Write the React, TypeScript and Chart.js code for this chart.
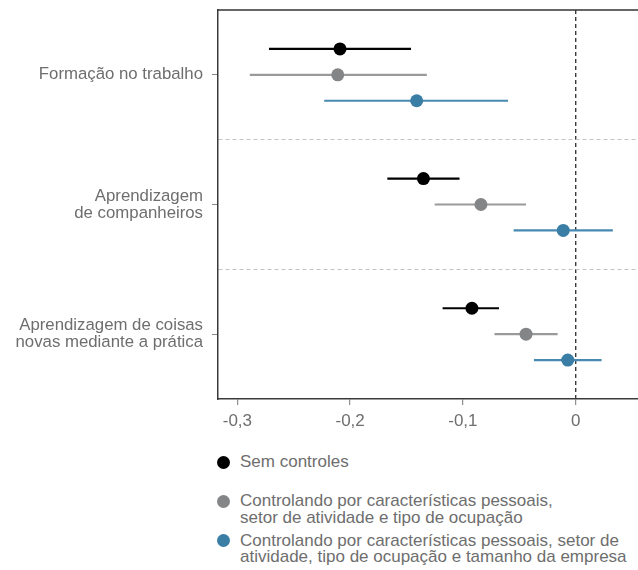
import React, { useEffect, useRef } from "react";
import { Chart, registerables } from "chart.js";

Chart.register(...registerables);

const CATEGORIES: string[][] = [
  ["Formação no trabalho"],
  ["Aprendizagem", "de companheiros"],
  ["Aprendizagem de coisas", "novas mediante a prática"],
];

const SERIES_NAMES: string[][] = [
  ["Sem controles"],
  ["Controlando por características pessoais,", "setor de atividade e tipo de ocupação"],
  ["Controlando por características pessoais, setor de", "atividade, tipo de ocupação e tamanho da empresa"],
];

const EST_SEM = [-0.209, -0.135, -0.092];
const LO_SEM = [-0.272, -0.167, -0.118];
const HI_SEM = [-0.146, -0.103, -0.068];

const EST_PESS = [-0.211, -0.084, -0.044];
const LO_PESS = [-0.289, -0.125, -0.072];
const HI_PESS = [-0.132, -0.044, -0.016];

const EST_EMP = [-0.141, -0.011, -0.007];
const LO_EMP = [-0.223, -0.055, -0.037];
const HI_EMP = [-0.06, 0.033, 0.023];

const X_TICKS = [-0.3, -0.2, -0.1, 0];

const POINT_COLORS = ["#000000", "#848587", "#3a7ea6"];
const LINE_COLORS = ["#000000", "#9a9a9a", "#4789b1"];
const DODGE = [-0.2, 0, 0.2];
const TEXT = "#6e6e6e";
const FONT = "'Liberation Sans', Arial, Helvetica, sans-serif";

const SERIES = [
  { est: EST_SEM, lo: LO_SEM, hi: HI_SEM },
  { est: EST_PESS, lo: LO_PESS, hi: HI_PESS },
  { est: EST_EMP, lo: LO_EMP, hi: HI_EMP },
];

const topBorder = {
  id: "topBorder",
  afterDraw(chart: any) {
    const { ctx, chartArea } = chart;
    ctx.save();
    ctx.strokeStyle = "#333";
    ctx.lineWidth = 1.5;
    ctx.beginPath();
    ctx.moveTo(chartArea.left - 0.75, chartArea.top);
    ctx.lineTo(chartArea.right, chartArea.top);
    ctx.stroke();
    ctx.restore();
  },
};

export default function App() {
  const ref = useRef<HTMLCanvasElement | null>(null);

  useEffect(() => {
    if (!ref.current) return;
    const datasets: any[] = [];
    SERIES.forEach((s, si) => {
      datasets.push({
        label: SERIES_NAMES[si].join(" "),
        data: s.est.map((v, ci) => ({ x: v, y: ci + DODGE[si] })),
        backgroundColor: POINT_COLORS[si],
        borderWidth: 0,
        pointRadius: 6.5,
        pointHoverRadius: 6.5,
        showLine: false,
        order: 0,
      });
    });
    SERIES.forEach((s, si) => {
      s.est.forEach((_, ci) => {
        datasets.push({
          label: "ci",
          data: [
            { x: s.lo[ci], y: ci + DODGE[si] },
            { x: s.hi[ci], y: ci + DODGE[si] },
          ],
          borderColor: LINE_COLORS[si],
          borderWidth: 2.2,
          pointRadius: 0,
          showLine: true,
          order: 1,
        });
      });
    });

    const chart = new Chart(ref.current, {
      type: "scatter",
      data: { datasets },
      plugins: [topBorder],
      options: {
        animation: false,
        responsive: true,
        maintainAspectRatio: false,
        layout: { autoPadding: false, padding: { top: 10, right: 0, left: 0, bottom: 0 } },
        plugins: { legend: { display: false }, tooltip: { enabled: false } },
        scales: {
          x: {
            type: "linear",
            min: -0.3172,
            max: 0.0553,
            afterBuildTicks: (scale: any) => {
              scale.ticks = X_TICKS.map((v) => ({ value: v }));
            },
            afterFit: (scale: any) => {
              scale.height = 41;
              scale.paddingLeft = 0;
              scale.paddingRight = 0;
            },
            ticks: {
              color: TEXT,
              font: { family: FONT, size: 17 },
              padding: 6,
              maxRotation: 0,
              callback: (v: any) =>
                v === 0 ? "0" : Number(v).toFixed(1).replace(".", ","),
            },
            grid: {
              drawOnChartArea: true,
              drawTicks: true,
              tickLength: 6,
              color: (ctx: any) =>
                ctx.tick && Math.abs(ctx.tick.value) < 1e-9 ? "#3a3a3a" : "rgba(0,0,0,0)",
              lineWidth: 1.4,
              tickColor: "#777",
              tickWidth: 1,
            },
            border: { display: true, color: "#3a3a3a", width: 1.5, dash: [4, 3] },
          },
          y: {
            type: "linear",
            reverse: true,
            min: -0.5,
            max: 2.5,
            afterBuildTicks: (scale: any) => {
              scale.ticks = [0, 0.5, 1, 1.5, 2].map((v) => ({ value: v }));
            },
            afterFit: (scale: any) => {
              scale.width = 218;
              scale.paddingTop = 0;
              scale.paddingBottom = 0;
            },
            ticks: {
              color: TEXT,
              font: { family: FONT, size: 16.8, lineHeight: 1.0 },
              padding: 9,
              autoSkip: false,
              callback: (v: any) =>
                Number.isInteger(v) ? CATEGORIES[v] : "",
            },
            grid: {
              drawOnChartArea: true,
              drawTicks: true,
              tickLength: 6,
              color: (ctx: any) =>
                ctx.tick && !Number.isInteger(ctx.tick.value) ? "#c4c4c4" : "rgba(0,0,0,0)",
              tickColor: (ctx: any) =>
                ctx.tick && Number.isInteger(ctx.tick.value) ? "#888" : "rgba(0,0,0,0)",
              lineWidth: 1,
            },
            border: { display: true, color: "#3a3a3a", width: 1.5, dash: [4, 3] },
          },
        },
      } as any,
    });
    return () => chart.destroy();
  }, []);

  const legendTops = [454, 493, 532.5];

  return (
    <div
      style={{
        position: "fixed",
        left: 0,
        top: 0,
        width: 638,
        height: 570,
        background: "#fff",
        fontFamily: FONT,
      }}
    >
      <div style={{ position: "absolute", left: 0, top: 0, width: 638, height: 440 }}>
        <canvas ref={ref} />
      </div>
      {SERIES_NAMES.map((lines, i) => (
        <div
          key={i}
          style={{
            position: "absolute",
            left: 217,
            top: legendTops[i],
            display: "flex",
            alignItems: "flex-start",
          }}
        >
          <span
            style={{
              display: "inline-block",
              width: 13,
              height: 13,
              borderRadius: "50%",
              background: POINT_COLORS[i],
              marginTop: 1.5,
              marginRight: 10,
              flexShrink: 0,
            }}
          />
          <div style={{ color: TEXT, fontSize: 17, lineHeight: "16.5px" }}>
            {lines.map((l, j) => (
              <div key={j} style={{ whiteSpace: "nowrap" }}>
                {l}
              </div>
            ))}
          </div>
        </div>
      ))}
    </div>
  );
}
